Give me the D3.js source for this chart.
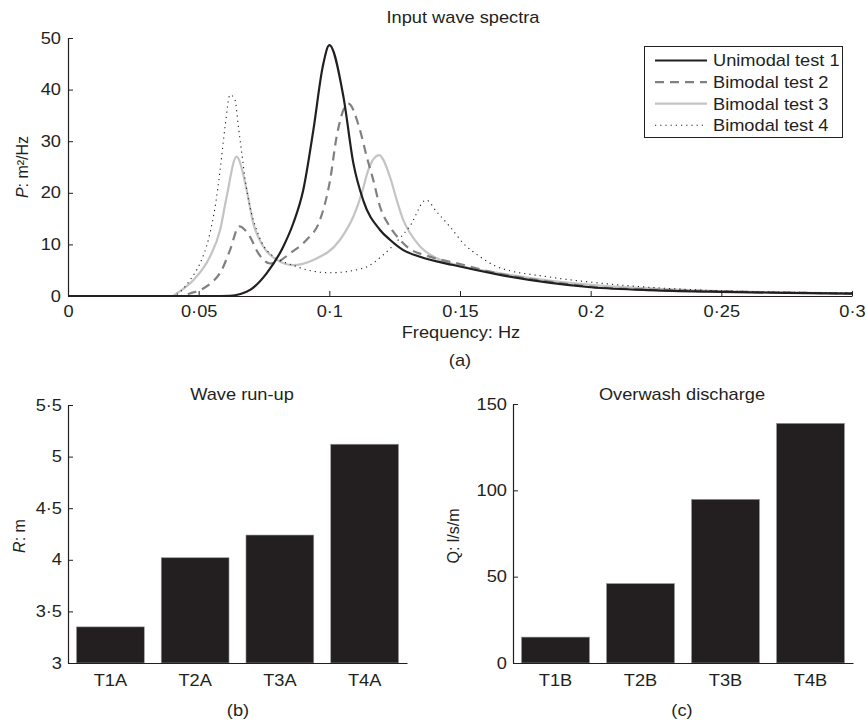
<!DOCTYPE html>
<html><head><meta charset="utf-8">
<script src="https://cdn.jsdelivr.net/npm/d3@7"></script>
<style>
body{margin:0;background:#fff;}
svg text{font-family:"Liberation Sans",Arial,Helvetica,sans-serif;fill:#231f20;font-size:16px;}
</style></head>
<body><svg id="c" width="866" height="725"></svg>
<script>
// ---- Data ----
const seriesNames = ["Unimodal test 1","Bimodal test 2","Bimodal test 3","Bimodal test 4"];
const f1 = [0,0.055,0.062,0.066,0.07,0.076,0.0824,0.0862,0.09,0.0939,0.0975,0.1,0.1054,0.1092,0.113,0.1194,0.1232,0.1283,0.1347,0.1474,0.1653,0.184,0.2,0.225,0.25,0.275,0.3];
const p1 = [0,0,0.05,0.4,1.3,4.4,9.6,14.1,20.5,32.2,44.5,48.6,38.6,25.7,18.5,12.8,10.9,8.9,7.6,6.0,4.1,2.6,1.7,1.1,0.8,0.6,0.45];
const f2 = [0,0.043,0.0467,0.0537,0.0588,0.062,0.0655,0.0696,0.0728,0.0773,0.081,0.085,0.0913,0.0964,0.1003,0.1028,0.1073,0.1117,0.1143,0.1168,0.1194,0.1232,0.127,0.1309,0.1373,0.15,0.1653,0.184,0.2,0.225,0.25,0.275,0.3];
const p2 = [0,0,0.5,2.1,5,8.9,13.5,11.5,8.3,6.3,6.8,8.3,10.9,14.7,22.5,30.9,37.3,32.2,27,22.5,17.3,13.4,10.9,9.1,7.8,6.2,4.3,2.8,1.8,1.2,0.9,0.65,0.5];
const f3 = [0,0.04,0.0416,0.048,0.0543,0.0582,0.0607,0.0645,0.0684,0.0709,0.0747,0.0799,0.086,0.0939,0.1041,0.1092,0.1124,0.1149,0.119,0.1232,0.1258,0.1283,0.1309,0.1347,0.1411,0.1513,0.1653,0.184,0.2036,0.225,0.25,0.275,0.3];
const p3 = [0,0,0.5,3.1,7.6,12.8,19.2,27,20.5,14.1,9.6,7.0,6.0,7.0,10.9,15.4,19.9,24.4,27.3,23.1,18.6,14.7,12.2,9.6,7.3,5.7,4.4,3.0,2.0,1.4,0.95,0.65,0.5];
const f4 = [0,0.04,0.0429,0.0467,0.0505,0.0537,0.0563,0.0582,0.0601,0.062,0.0639,0.0652,0.0665,0.0678,0.0696,0.0722,0.076,0.0875,0.1003,0.113,0.1207,0.127,0.1309,0.137,0.1411,0.1462,0.1513,0.1577,0.164,0.184,0.2036,0.225,0.25,0.275,0.3];
const p4 = [0,0,0.8,3.1,6.3,10.9,17.3,24.4,32.8,39,38,32.8,27.7,22.5,17.3,12.8,8.9,5.7,4.5,5.4,8.0,11.2,13.6,18.6,16.3,13.4,10.2,7.6,5.7,3.7,2.5,1.6,1.0,0.75,0.6];
const freqTicks = [0,0.05,0.1,0.15,0.2,0.25,0.3];
const freqTickLabels = ["0","0·05","0·1","0·15","0·2","0·25","0·3"];
const pTicks = [0,10,20,30,40,50];

const runCats = ["T1A","T2A","T3A","T4A"];
const runVals = [3.35,4.02,4.24,5.12];
const runTicks = [3,3.5,4,4.5,5,5.5];
const runTickLabels = ["3","3·5","4","4·5","5","5·5"];

const owCats = ["T1B","T2B","T3B","T4B"];
const owVals = [15,46,94.8,138.8];
const owTicks = [0,50,100,150];

const ink = "#231f20";
const styles = [
  {color:"#231f20", width:2.2, dash:null},
  {color:"#808080", width:2.2, dash:"9,6"},
  {color:"#c4c4c4", width:2.2, dash:null},
  {color:"#231f20", width:1.1, dash:"1.2,4"}
];

function stretch(sel, origin){
  sel.style("transform-box","fill-box").style("transform-origin",origin).style("transform","scaleX(1.14)");
  return sel;
}

const svg = d3.select("#c");

// ---- Panel (a) ----
const x = d3.scaleLinear().domain([0,0.3]).range([68,852]);
const y = d3.scaleLinear().domain([0,50]).range([296,38]);
const gA = svg.append("g");

const xAxis = d3.axisBottom(x).tickValues(freqTicks).tickFormat((d,i)=>freqTickLabels[i]).tickSizeInner(-5).tickSizeOuter(0).tickPadding(10);
const ga = gA.append("g").attr("transform","translate(0,296)").call(xAxis);
const yAxis = d3.axisLeft(y).tickValues(pTicks).tickSizeInner(-5).tickSizeOuter(0).tickPadding(7);
const gy = gA.append("g").attr("transform","translate(68,0)").call(yAxis);
[ga,gy].forEach(g=>{
  g.selectAll("path").attr("stroke",ink).attr("stroke-width",1.2);
  g.selectAll("line").attr("stroke",ink).attr("stroke-width",1);
  g.selectAll("text").style("font-size","16px").attr("fill",ink);
});
stretch(ga.selectAll("text"),"center");
stretch(gy.selectAll("text"),"right center");

const line = d3.line().x(d=>x(d[0])).y(d=>y(d[1])).curve(d3.curveMonotoneX);
const allF = [f1,f2,f3,f4], allP = [p1,p2,p3,p4];
[2,1,3,0].forEach(i=>{
  const pts = allF[i].map((f,j)=>[f,allP[i][j]]);
  gA.append("path").datum(pts).attr("d",line).attr("fill","none")
    .attr("stroke",styles[i].color).attr("stroke-width",styles[i].width)
    .attr("stroke-dasharray",styles[i].dash);
});

stretch(gA.append("text").attr("x",463).attr("y",23).attr("text-anchor","middle").text("Input wave spectra"),"center");
stretch(gA.append("text").attr("x",461).attr("y",338).attr("text-anchor","middle").text("Frequency: Hz"),"center");
stretch(gA.append("text").attr("x",460).attr("y",366).attr("text-anchor","middle").text("(a)"),"center");
const yl = gA.append("g").attr("transform","translate(28,167) rotate(-90)").append("text").attr("text-anchor","middle");
yl.append("tspan").attr("font-style","italic").text("P");
yl.append("tspan").text(": m²/Hz");

// legend
const lg = gA.append("g");
lg.append("rect").attr("x",644.5).attr("y",46.5).attr("width",198).attr("height",91).attr("fill","#fff").attr("stroke",ink).attr("stroke-width",1);
seriesNames.forEach((n,i)=>{
  const yy = 60.5 + i*21.6;
  lg.append("line").attr("x1",655).attr("x2",707).attr("y1",yy).attr("y2",yy)
    .attr("stroke",styles[i].color).attr("stroke-width",styles[i].width).attr("stroke-dasharray",styles[i].dash);
  stretch(lg.append("text").attr("x",713).attr("y",yy+6).text(n),"left center");
});

// ---- bar panel helper ----
function barPanel(opts){
  const g = svg.append("g");
  const xb = d3.scaleBand().domain(opts.cats).range([opts.x0,opts.x1]).paddingInner(0.2).paddingOuter(0.1);
  const yb = d3.scaleLinear().domain(opts.domain).range([663,opts.yTop]);
  g.selectAll("rect.bar").data(opts.vals).join("rect").attr("class","bar")
    .attr("x",(d,i)=>xb(opts.cats[i])).attr("width",xb.bandwidth())
    .attr("y",d=>yb(d)).attr("height",d=>663-yb(d))
    .attr("fill",ink).attr("stroke","#9a9a9a").attr("stroke-width",0.6);
  const ax = g.append("g").attr("transform","translate(0,663)")
    .call(d3.axisBottom(xb).tickSize(0).tickSizeOuter(0).tickPadding(12));
  const ay = g.append("g").attr("transform",`translate(${opts.x0},0)`)
    .call(d3.axisLeft(yb).tickValues(opts.ticks).tickFormat((d,i)=>opts.tickLabels[i]).tickSizeInner(-5).tickSizeOuter(0).tickPadding(6));
  [ax,ay].forEach(a=>{
    a.selectAll("path").attr("stroke",ink).attr("stroke-width",1.2);
    a.selectAll("line").attr("stroke",ink);
    a.selectAll("text").style("font-size","16px").attr("fill",ink);
  });
  stretch(ax.selectAll("text"),"center");
  stretch(ay.selectAll("text"),"right center");
  stretch(g.append("text").attr("x",opts.titleX).attr("y",400).attr("text-anchor","middle").text(opts.title),"center");
  stretch(g.append("text").attr("x",opts.letterX).attr("y",716).attr("text-anchor","middle").text(opts.letter),"center");
  const t = g.append("g").attr("transform",`translate(${opts.labelX},536) rotate(-90)`).append("text").attr("text-anchor","middle");
  opts.ylab(t);
}

barPanel({cats:runCats, vals:runVals, domain:[3,5.5], ticks:runTicks, tickLabels:runTickLabels,
  x0:68, x1:407, yTop:405, title:"Wave run-up", titleX:242, letter:"(b)", letterX:238, labelX:25,
  ylab:t=>{t.append("tspan").attr("font-style","italic").text("R"); t.append("tspan").text(": m");}});
barPanel({cats:owCats, vals:owVals, domain:[0,150], ticks:owTicks, tickLabels:owTicks.map(String),
  x0:513, x1:853, yTop:404, title:"Overwash discharge", titleX:682, letter:"(c)", letterX:682, labelX:459,
  ylab:t=>{t.text("Q: l/s/m");}});
</script></body></html>
